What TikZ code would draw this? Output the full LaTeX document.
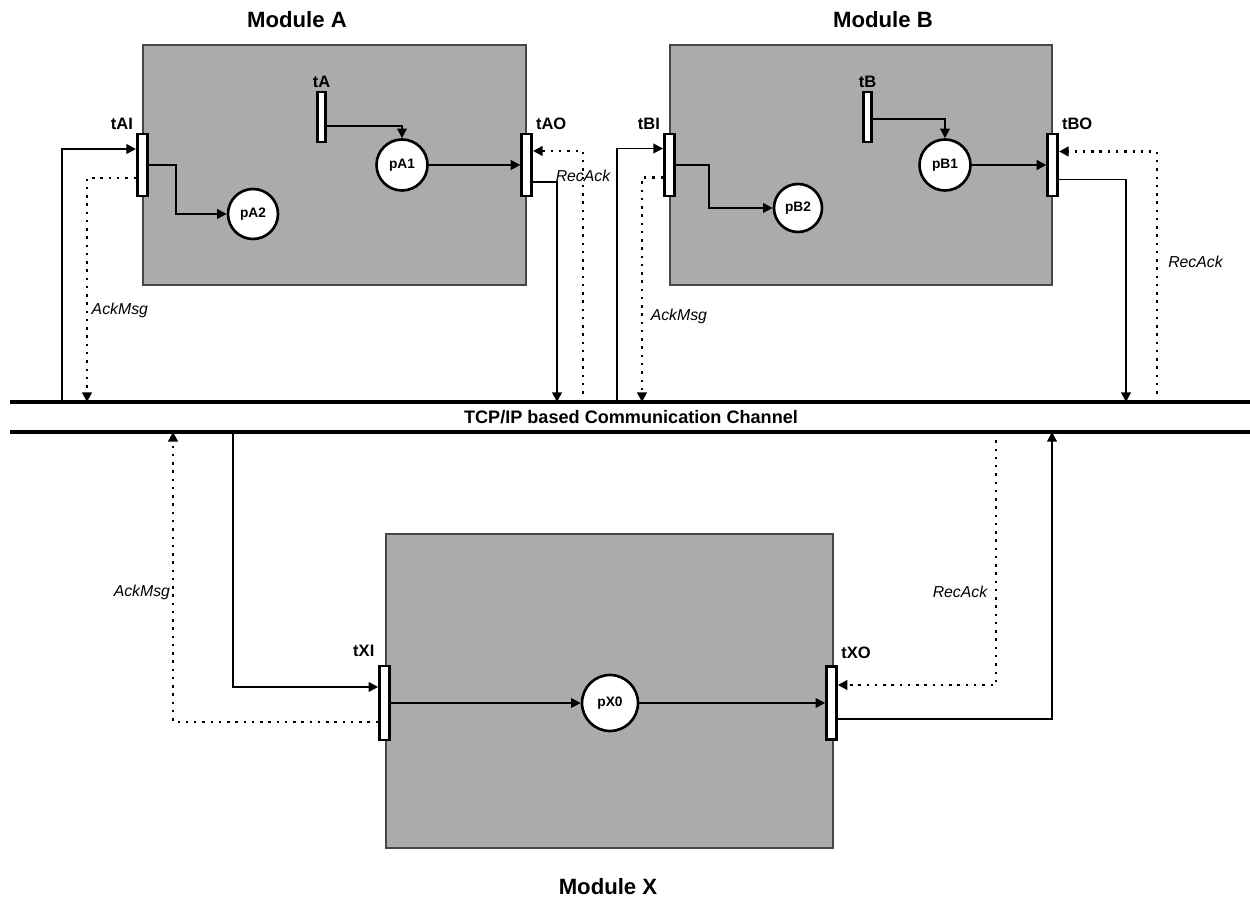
\documentclass[tikz,border=0pt]{standalone}
\usepackage{fontspec}
\setmainfont{Liberation Sans}
\usetikzlibrary{arrows.meta, positioning}
\definecolor{modfill}{RGB}{171,171,171}
\definecolor{modline}{RGB}{70,70,70}

\begin{document}
\begin{tikzpicture}[>={Triangle[length=5.5pt,width=5.5pt]},
    module/.style={draw=modline, fill=modfill, line width=0.8pt, inner sep=0pt},
    trans/.style={draw, fill=white, line width=1.5pt, inner sep=0pt, minimum width=0.2cm, minimum height=1.24cm},
    place/.style={draw, circle, fill=white, line width=1.5pt, inner sep=0pt, minimum size=1.02cm, font=\bfseries\fontsize{7.8}{9}\selectfont},
    tlabel/.style={font=\bfseries\fontsize{9.4}{11}\selectfont, inner sep=1.5pt},
    title/.style={font=\bfseries\fontsize{12.6}{15}\selectfont},
    arc/.style={->, line width=1.1pt},
    ack/.style={->, line width=1.4pt, dash pattern=on 1.4pt off 3.3pt},
    msg/.style={font=\itshape\fontsize{9}{11}\selectfont, inner sep=2pt},
    channel/.style={line width=1.9pt}]
        \useasboundingbox (0,0) rectangle (25,17.96);

        % module boxes and titles
        \node[module, minimum width=7.66cm, minimum height=4.8cm] (modA) at (6.69,14.66) {};
        \node[module, minimum width=7.64cm, minimum height=4.8cm] (modB) at (17.22,14.66) {};
        \node[module, minimum width=8.94cm, minimum height=6.28cm] (modX) at (12.19,4.14) {};
        \node[title] (titleA) at (5.94,17.56) {Module A};
        \node[title] (titleB) at (17.66,17.56) {Module B};
        \node[title] (titleX) at (12.16,0.22) {Module X};

        % communication channel
        \coordinate (chTL) at (0.2,9.92);
        \coordinate (chTR) at (25,9.92);
        \coordinate (chBL) at (0.2,9.32);
        \coordinate (chBR) at (25,9.32);
        \draw[channel] (chTL) -- (chTR);
        \draw[channel] (chBL) -- (chBR);
        \node[font=\bfseries\fontsize{10.3}{12}\selectfont] (chLabel) at (12.62,9.62) {TCP/IP based Communication Channel};

        % transitions
        \node[trans, label={[tlabel]north west:tAI}] (tAI) at (modA.west) {};
        \node[trans, minimum width=0.15cm, minimum height=1.0cm, label={[tlabel]above:tA}] (tA) at (6.43,15.62) {};
        \node[trans, label={[tlabel]north east:tAO}] (tAO) at (modA.east) {};
        \node[trans, label={[tlabel]north west:tBI}] (tBI) at (modB.west) {};
        \node[trans, minimum width=0.15cm, minimum height=1.0cm, label={[tlabel]above:tB}] (tB) at (17.35,15.62) {};
        \node[trans, label={[tlabel]north east:tBO}] (tBO) at (modB.east) {};
        \node[trans, minimum height=1.48cm, label={[tlabel, label distance=3pt]north west:tXI}] (tXI) at (7.69,3.9) {};
        \node[trans, minimum height=1.46cm, label={[tlabel, label distance=2pt]north east:tXO}] (tXO) at (16.63,3.9) {};

        % places
        \node[place] (pA1) at (8.04,14.66) {pA1};
        \node[place, minimum size=1.0cm] (pA2) at (5.06,13.68) {pA2};
        \node[place] (pB1) at (18.9,14.66) {pB1};
        \node[place, minimum size=0.96cm] (pB2) at (15.96,13.8) {pB2};
        \node[place, minimum size=1.12cm] (pX0) at (12.2,3.9) {pX0};

        % arcs inside the modules
        \draw[arc] ([yshift=-0.18cm]tA.east) -| (pA1);
        \draw[arc] (pA1) -- (tAO);
        \draw[arc] (tAI.east) -- ++(0.55,0) |- (pA2);
        \draw[arc] ([yshift=-0.04cm]tB.east) -| (pB1);
        \draw[arc] (pB1) -- (tBO);
        \draw[arc] (tBI.east) -- ++(0.66,0) |- (pB2);
        \draw[arc] (tXI) -- (pX0);
        \draw[arc] (pX0) -- (tXO);

        % ends on the channel
        \coordinate (inA) at (1.24,9.92);
        \coordinate (ackA) at (1.74,9.92);
        \coordinate (outA) at (11.14,9.92);
        \coordinate (recA) at (11.66,9.92);
        \coordinate (inB) at (12.34,9.92);
        \coordinate (ackB) at (12.84,9.92);
        \coordinate (outB) at (22.52,9.92);
        \coordinate (recB) at (23.14,9.92);
        \coordinate (inX) at (4.66,9.32);
        \coordinate (ackX) at (3.46,9.32);
        \coordinate (recX) at (19.92,9.32);
        \coordinate (outX) at (21.04,9.32);

        % module A <-> channel
        \draw[arc] (inA) |- ([yshift=0.32cm]tAI.west);
        \draw[ack] ([yshift=-0.26cm]tAI.west) -| node[msg, pos=0.795, anchor=west] {AckMsg} (ackA);
        \draw[arc] ([yshift=-0.34cm]tAO.east) -| (outA);
        \draw[ack] (recA) |- node[msg, pos=0.45] {RecAck} ([yshift=0.28cm]tAO.east);

        % module B <-> channel
        \draw[arc] (inB) |- ([yshift=0.33cm]tBI.west);
        \draw[ack] ([yshift=-0.25cm]tBI.west) -| node[msg, pos=0.81, anchor=west, xshift=0.08cm] {AckMsg} (ackB);
        \draw[arc] ([yshift=-0.29cm]tBO.east) -| (outB);
        \draw[ack] (recB) |- node[msg, pos=0.28, anchor=west, xshift=0.13cm] {RecAck} ([yshift=0.27cm]tBO.east);

        % module X <-> channel
        \draw[arc] (inX) |- ([yshift=0.32cm]tXI.west);
        \draw[ack] ([yshift=-0.38cm]tXI.west) -| node[msg, pos=0.724, anchor=east, inner sep=1pt] {AckMsg} (ackX);
        \draw[ack] (recX) |- node[msg, pos=0.316, anchor=east, xshift=-0.08cm] {RecAck} ([yshift=0.36cm]tXO.east);
        \draw[arc] ([yshift=-0.32cm]tXO.east) -| (outX);
\end{tikzpicture}
\end{document}
